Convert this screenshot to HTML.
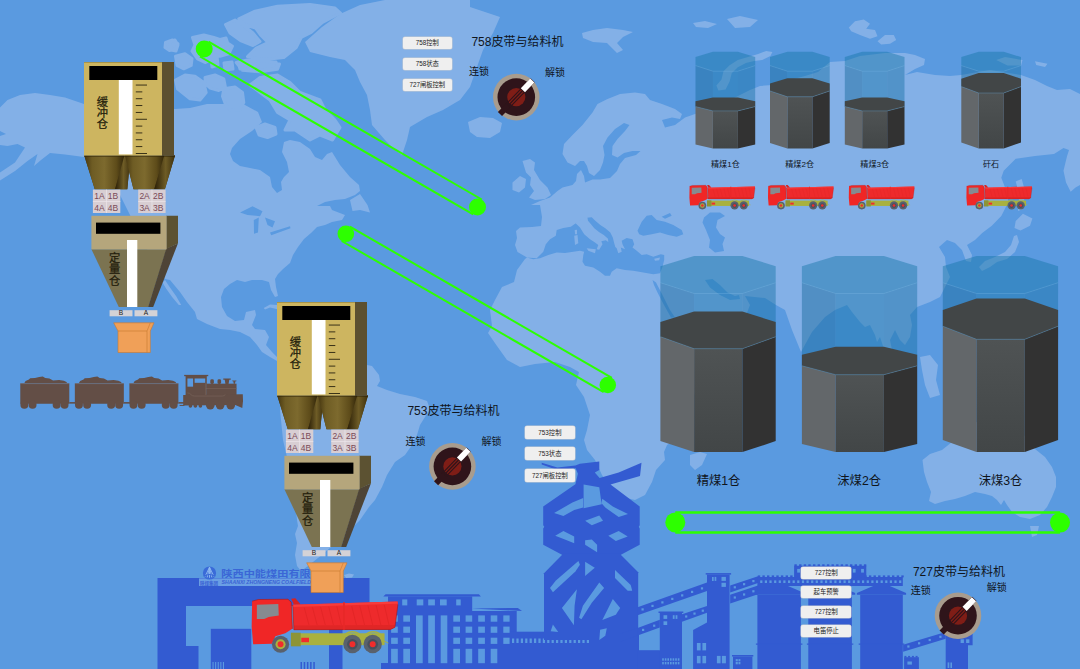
<!DOCTYPE html><html><head><meta charset="utf-8"><title>皮带与给料机监控</title><style>
html,body{margin:0;padding:0}
body{width:1080px;height:669px;overflow:hidden;background:#5a9ae0;position:relative;font-family:"Liberation Sans","Noto Sans CJK SC",sans-serif}
svg{position:absolute;left:0;top:0}
svg text{font-family:"Liberation Sans","Noto Sans CJK SC",sans-serif}
.v{font-size:11.3px;text-anchor:middle;fill:#241e0c;stroke:#241e0c;stroke-width:0.25px}
.lab{font-size:8.5px;text-anchor:middle;fill:#7a4a58}
.ba{font-size:6.6px;text-anchor:middle;fill:#222}
.btn{position:absolute;background:#efefef;border-radius:2px;box-shadow:0 0 0 0.5px #c8ccd2;font-size:6.3px;text-align:center;color:#222;white-space:nowrap;overflow:hidden}
.t{position:absolute;white-space:nowrap;color:#10151c;line-height:1}
</style></head><body>
<svg width="1080" height="669" viewBox="0 0 1080 669">
<defs>
<linearGradient id="cone" x1="0" x2="1" y1="0" y2="0"><stop offset="0" stop-color="#46360f"/><stop offset="0.2" stop-color="#6e5c24"/><stop offset="0.5" stop-color="#7d6a2e"/><stop offset="0.8" stop-color="#5e4c1a"/><stop offset="1" stop-color="#32260a"/></linearGradient>
<linearGradient id="cone2" x1="0" x2="1" y1="0" y2="0"><stop offset="0" stop-color="#2a1e06"/><stop offset="0.55" stop-color="#6e5c26"/><stop offset="1" stop-color="#3e300e"/></linearGradient>
<linearGradient id="coalc" x1="0" x2="0" y1="0" y2="1"><stop offset="0" stop-color="#4f5354"/><stop offset="1" stop-color="#424647"/></linearGradient>
<symbol id="truck" viewBox="0 0 1080 472">
<rect x="310" y="292" width="632" height="80" fill="#a9b13f"/>
<rect x="310" y="288" width="66" height="92" fill="#8d9436"/>
<rect x="380" y="322" width="52" height="30" fill="#f02c2c"/>
<polygon points="48,75 90,64 290,62 312,82 320,262 272,292 205,312 182,362 55,366 45,250" fill="#f02626"/>
<polygon points="80,100 225,95 228,172 160,182 130,196 80,196" fill="#868a90"/>
<polygon points="312,58 340,56 372,92 372,100 330,100" fill="#d82222"/>
<polygon points="322,100 1030,78 1032,98 1012,252 982,266 330,268" fill="#ee2a2c"/>
<polygon points="322,100 1030,78 1031,92 324,114" fill="#f83c3c"/>
<polygon points="330,240 1010,236 1008,252 982,266 330,268" fill="#e02626"/>
<g stroke="#dc2222" stroke-width="4"><line x1="400" y1="118" x2="432" y2="236"/><line x1="455" y1="116" x2="487" y2="236"/><line x1="510" y1="114" x2="542" y2="236"/><line x1="565" y1="112" x2="597" y2="236"/><line x1="620" y1="110" x2="650" y2="236"/><line x1="720" y1="108" x2="752" y2="236"/><line x1="775" y1="106" x2="807" y2="236"/><line x1="830" y1="104" x2="862" y2="236"/><line x1="885" y1="102" x2="917" y2="236"/><line x1="940" y1="100" x2="972" y2="236"/></g>
<path d="M48,75 L90,64 L290,62 L312,82 L320,262 M322,100 L330,268 L982,266 L1012,252 L1032,98" fill="none" stroke="#a81818" stroke-width="4"/>
<rect x="662" y="82" width="12" height="186" fill="#e82828"/>
<circle cx="240" cy="366" r="58" fill="#59616d"/><circle cx="240" cy="366" r="34" fill="#a9b13f"/><circle cx="240" cy="366" r="20" fill="#f02c2c"/>
<circle cx="725" cy="364" r="62" fill="#59616d"/><circle cx="725" cy="366" r="36" fill="#48505c"/><circle cx="725" cy="366" r="20" fill="#f02c2c"/>
<circle cx="862" cy="364" r="62" fill="#59616d"/><circle cx="862" cy="366" r="36" fill="#48505c"/><circle cx="862" cy="366" r="20" fill="#f02c2c"/>
<path d="M655,330 A75,75 0 0 1 795,330 A75,75 0 0 1 935,330" fill="none" stroke="#a9b13f" stroke-width="10"/>
<line x1="930" y1="340" x2="968" y2="358" stroke="#a9b13f" stroke-width="6"/>
</symbol></defs>
<path fill="#83b0e7" d="M238.8,18.8 L255,11.2 L277.5,6.2 L310,4.5 L335,8 L340.5,13 L322.5,22.5 L311.2,32.5 L301.2,37.5 L296.2,47.5 L283.8,57.5 L265,59.5 L247.5,56.5 L256.2,48 L268,42.5 L260.5,35 L255.5,28 L245.5,25Z M225.5,24.5 L235,20 L243,25 L253,33 L260,41.5 L253,45.5 L240.5,40.5 L230,33Z M236.2,62.5 L247.5,60 L265,61.2 L279.5,64 L277.5,69.2 L260,71.8 L242.5,70.2Z M192.5,37.5 L203.8,35 L213.8,37.5 L225,41.2 L232.5,46.2 L228.8,53.8 L220,56.2 L210,53.8 L213.8,58.8 L205,62.5 L197.5,58.8 L192,51.2 L195,45Z M165.5,42.5 L172.5,40 L178,43.8 L176.2,48.8 L169.5,50.5 L165,47.5Z M175.5,56.2 L185,53.8 L192,58.8 L191.2,65.5 L183.8,68.8 L177,65.5Z M175.5,80 L185,75 L195,76.2 L203.8,82.5 L206.2,92.5 L200,100 L190,98.8 L183.8,93.8 L177.5,88.8Z M205,77.5 L215,75 L223.8,78.8 L225.5,87.5 L218.8,90.5 L210,88 L205.5,83.8Z M223.8,88.8 L235,87 L242.5,92.5 L243.8,102.5 L239.5,110 L231.2,110.5 L225.5,104.5 L222.5,96.2Z M260,77.5 L277.5,75 L290,82.5 L300,92.5 L320,100 L325,110 L335,120 L340,127.5 L332.5,140 L320,135 L310,140 L295,130 L285,130 L290,120 L277.5,112.5 L270,100 L260,92.5 L250,85Z M256,127.5 L265,124 L275,127.5 L276,134 L267.5,137.5 L259,135Z M170,42 L175,40 L178,45 L176,51 L171,50Z M218,40 L226,38 L228,44 L222,47 L217,45Z M238,62 L255,60 L276,62 L278,68 L260,70 L240,69Z M211,58 L217,56 L218,65 L212,67Z M224,63 L232,62 L233,69 L225,70Z M0,107.5 L7.5,100 L20,95 L35,93 L50,95 L65,97.5 L84,104 L130,108 L175,109 L190,108 L207,104 L222,104 L235,101 L245,105 L258,112 L262,122 L252,131 L240,139 L232,148 L230,154 L233,161 L240,166 L250,168 L260,170 L270,177 L272,187 L277,193 L282,190 L281,182 L284,177 L289,172 L287,162 L282,152 L284,142 L290,140 L300,142 L310,149 L315,157 L322,160 L327,154 L332,152 L340,165 L350,177 L359,185 L360,191 L355,195 L345,199 L335,200 L325,202 L317,206 L330,206 L332,210 L345,215 L342,220 L332,222 L325,225 L317,227 L311,233 L304,239 L298,247 L293,255 L290,263 L283,269 L278,274 L275,279 L276,287 L278,296 L275,297 L271,290 L269,282 L262,280 L252,280 L245,282 L237,280 L230,284 L224,289 L221,297 L222,307 L227,316 L235,321 L244,320 L246,312 L255,310 L256,315 L252,325 L255,329 L265,330 L269,337 L266,345 L272,352 L277,357 L290,363 L290,368 L277,361 L270,357 L262,352 L257,345 L250,337 L240,332 L230,330 L220,329 L207,324 L197,319 L195,312 L187,302 L180,292 L170,280 L165,279 L150,255 L135,225 L120,195 L100,172 L84,157 L65,154.5 L50,153 L41,160 L34,166 L37.5,154 L27.5,161 L15,171 L0,180.5 L0,172.5 L15,162.5 L20,155 L25,147.5 L17.5,144 L7.5,146 L0,145 L0,136 L6,134 L0,131Z M165,280 L170,287.5 L176.2,296.2 L181.2,305 L178.8,305 L172.5,297.5 L166.2,288.8 L162.5,282.5Z M350,200 L360,194 L367.5,205 L370,212.5 L360,210 L352.5,211Z M263.75,308 L270,304.5 L277.5,305 L285,308 L285,311 L270,307.5 L265,309.5Z M340,14 L360,5 L385,0 L470,0 L470,7 L500,17 L493,33 L483,50 L477,67 L470,87 L460,100 L443,110 L427,117 L410,127 L407,140 L402,155 L395,150 L385,140 L372,125 L370,110 L367,95 L360,82 L355,70 L345,60 L330,57 L310,52 L305,42 L322,27Z M468,122 L480,117 L493,118 L502,123 L500,132 L490,138 L477,137 L470,132Z M582,33 L593,30 L607,28 L623,30 L633,32 L623,37 L617,43 L623,50 L617,53 L607,43 L593,42 L583,38Z M693,23 L705,21 L717,24 L708,28 L696,27Z M727,19 L740,16 L758,20 L750,27 L735,28Z M772.4,51.9 L770.4,56 L762.2,60.1 L754.1,61.1 L745.9,63.1 L737.8,67.2 L731.7,73.3 L729.6,81.5 L725.6,89.6 L718.4,90.6 L716.4,85.6 L721.5,79.4 L723.5,71.3 L729.6,65.2 L737.8,60.1 L748,57 L758.2,54 L766.3,50.9Z M848.8,27.5 L855,21.2 L863.8,19.5 L870,23.8 L866.2,28.8 L875,30 L877.5,36.2 L870,38.8 L860,35 L851.2,31.2Z M877.5,41.2 L885,35 L893.8,35 L896.2,40 L890,43.8 L881.2,44.5Z M996.2,60 L1005,57 L1022.5,60 L1021.2,65.5 L1007.5,65.5Z M1035,61.2 L1047.5,63.8 L1045,67 L1036.2,65Z M522.5,161 L530,159 L535,162.5 L534,170 L540,180 L547.5,187.5 L551,195 L545,199 L535,200 L529,197.5 L534,191 L530,185 L531,177.5 L526,172.5 L524,166Z M512.5,182.5 L520,176 L526,179 L525,187.5 L519,192.5 L512.5,190Z M635,92.5 L645,94 L650,100 L662,104 L675,109 L682,114 L680,119 L672,117.5 L662,120 L665,127.5 L675,125 L685,117.5 L695,114 L710,108 L730,100 L750,90 L760,86 L772,85 L790,80 L805,76 L818,72 L830,62 L845,61 L860,56 L885,53 L905,53 L915,55 L925,59 L924,65 L915,69 L905,75 L917,72 L935,75 L950,76 L961,75 L990,70 L1021,75 L1035,80 L1047,86 L1057,90 L1070,89 L1080,94 L1080,185 L1075.5,187.4 L1070.7,191.7 L1066,182.6 L1063.5,170.7 L1067,156.3 L1069,150 L1063.5,148 L1054,154 L1035,156 L1015.7,158.7 L1003.7,170.7 L1001.3,177.8 L1006,190 L1008.5,201.8 L1001.3,216 L991.8,225.7 L982.2,232.9 L975,240 L967,245 L972,255 L971,262 L966,261 L962,250 L955,243 L947,240 L939,247 L945,257 L946,267 L950,277 L945,287 L940,297 L930,302 L917,307 L910,315 L912,325 L910,337 L905,345 L900,340 L895,330 L890,340 L892,350 L897,375 L893,376 L886,355 L880,337 L877,342 L875,335 L870,325 L865,327 L860,322 L852,312 L847,305 L835,310 L825,317 L812,332 L801,352 L792,330 L785,310 L776,305 L765,298 L745,296 L750,305 L745,318 L720,335 L690,345 L722,350 L712,368 L700,385 L690,402 L680,420 L675,440 L667,445 L664,452 L665,460 L656,470 L652,482 L645,495 L635,500 L622,497 L612,490 L602,475 L595,460 L587,450 L584,440 L587,430 L590,415 L584,397 L576,385 L579,372 L570,367 L555,362 L535,364 L520,367 L507,360 L497,346 L488,333 L492,326 L490,310 L495,300 L502,287 L514,282 L517,270 L525,259 L527,257.5 L517.5,252 L515,245 L517,238 L516,231 L520,227.5 L532,227 L541,226 L542,217 L540,205 L531,205 L540,201 L550,197.5 L557.5,191 L562.5,187.5 L572.5,185 L576,181 L577,174 L581,170 L584,176 L585,182.5 L592.5,179.5 L600,179.5 L610,178 L617,171 L620,164 L625,158 L636,155 L640.5,151 L632.5,151 L624,153 L617.5,157.5 L612,155 L612.5,146 L617.5,139 L625,131 L629.5,125 L624,123 L615,129 L607.5,137.5 L603,146 L604.5,155 L603,162.5 L600,170 L594,176 L589,173 L587,166 L584,161 L580,161 L575,166 L567.5,162.5 L562.5,154 L564,144 L572.5,135 L582.5,125 L592.5,112.5 L597.5,104 L607.5,99 L620,94Z M690,455 L700,452 L707,454 L702,465 L695,470 L690,465Z M979,267 L985,261 L995,257 L1005,252 L1011,245 L1014,236 L1017,235 L1019,242 L1015,252 L1007,259 L997,262 L990,267 L982,271Z M1015.7,221 L1022.9,213.7 L1032.4,218.5 L1030,225.7 L1020.5,230.5 L1014.5,228Z M1015.7,181.4 L1021.7,179 L1025.3,192 L1022.9,209 L1018,211 L1019.3,194.6Z M920,357 L930,355 L938,365 L936,380 L940,395 L930,398 L925,385 L922,370Z M285,362 L300,360 L330,358 L367,365 L372,366 L379,375 L380,381 L377,386 L387,390 L400,394 L415,397 L427,401 L430,409 L425,417 L420,425 L417,435 L412,445 L405,455 L395,462 L387,475 L382,487 L375,500 L369,507 L360,520 L345,535 L330,548 L318,558 L308,566 L301,571 L297,566 L295,555 L297,543 L295,534 L298,526 L297,520 L295,500 L290,470 L283,440 L280,410 L283,385Z M344,575 L349,573.5 L354,574.5 L352,577.5 L346,578Z M922.5,460 L930,454 L942,450 L952,442 L965,425 L985,420 L1000,430 L1010,410 L1020,430 L1035,449 L1045,457 L1052,467 L1056,477 L1056,487 L1052,497 L1047,507 L1040,515 L1030,519 L1020,517 L1012,512 L1007,505 L1004,500 L1001,505 L997,500 L992,496 L985,494 L975,492 L965,496 L955,499 L945,501 L935,504 L929,501 L931,492 L927,482 L924,472Z M1030,526 L1039,526 L1037,535 L1032,537Z"/>
<path fill="#83b0e7" stroke="#83b0e7" stroke-width="3" stroke-linejoin="round" d="M238.8,18.8 L255,11.2 L277.5,6.2 L310,4.5 L335,8 L340.5,13 L322.5,22.5 L311.2,32.5 L301.2,37.5 L296.2,47.5 L283.8,57.5 L265,59.5 L247.5,56.5 L256.2,48 L268,42.5 L260.5,35 L255.5,28 L245.5,25Z M225.5,24.5 L235,20 L243,25 L253,33 L260,41.5 L253,45.5 L240.5,40.5 L230,33Z M236.2,62.5 L247.5,60 L265,61.2 L279.5,64 L277.5,69.2 L260,71.8 L242.5,70.2Z M192.5,37.5 L203.8,35 L213.8,37.5 L225,41.2 L232.5,46.2 L228.8,53.8 L220,56.2 L210,53.8 L213.8,58.8 L205,62.5 L197.5,58.8 L192,51.2 L195,45Z M165.5,42.5 L172.5,40 L178,43.8 L176.2,48.8 L169.5,50.5 L165,47.5Z M175.5,56.2 L185,53.8 L192,58.8 L191.2,65.5 L183.8,68.8 L177,65.5Z M175.5,80 L185,75 L195,76.2 L203.8,82.5 L206.2,92.5 L200,100 L190,98.8 L183.8,93.8 L177.5,88.8Z M205,77.5 L215,75 L223.8,78.8 L225.5,87.5 L218.8,90.5 L210,88 L205.5,83.8Z M223.8,88.8 L235,87 L242.5,92.5 L243.8,102.5 L239.5,110 L231.2,110.5 L225.5,104.5 L222.5,96.2Z M260,77.5 L277.5,75 L290,82.5 L300,92.5 L320,100 L325,110 L335,120 L340,127.5 L332.5,140 L320,135 L310,140 L295,130 L285,130 L290,120 L277.5,112.5 L270,100 L260,92.5 L250,85Z M256,127.5 L265,124 L275,127.5 L276,134 L267.5,137.5 L259,135Z M170,42 L175,40 L178,45 L176,51 L171,50Z M218,40 L226,38 L228,44 L222,47 L217,45Z M238,62 L255,60 L276,62 L278,68 L260,70 L240,69Z M211,58 L217,56 L218,65 L212,67Z M224,63 L232,62 L233,69 L225,70Z"/>
<path fill="#5a9ae0" d="M240,212.5 L252.5,206.2 L262.5,211.2 L260,216.2 L247.5,215Z M253.8,220 L258.8,217.5 L258,232.5 L254,233.8Z M265,217.5 L275,221.2 L272.5,227.5 L267.5,225Z M270,232.5 L290,226.2 L290.5,228.2 L271.2,235.2Z M526.7,257.5 L536.7,258.3 L543.3,251.7 L545.8,244.2 L550,239.2 L555.8,235.8 L556.7,230 L563.3,228 L570.8,226.7 L575.8,223.3 L581.7,220.8 L586.7,217.7 L591.7,217.2 L595.3,220.8 L600.3,225 L605.3,228.3 L610.3,232.5 L612.8,237.5 L614,242.5 L615.3,247 L616.7,248.3 L618.3,253.3 L621.7,251.7 L620.8,247.5 L625,249.2 L622.5,244.2 L621.7,240.8 L626.7,238 L632.5,239.2 L634.2,244.2 L632.5,247.5 L636.7,250.8 L641.7,255 L646.7,254.2 L653.3,256.7 L660.8,254.2 L664.2,255 L664.2,260 L662.5,266.7 L660,273.3 L653.3,274.2 L643.3,272.5 L633.3,270.8 L625,270 L616.7,268.3 L611.7,271.7 L610,275.8 L605,275.8 L600,271.7 L593.3,267.5 L585,265.8 L582.5,261.7 L583.3,255 L584.2,251.7 L580,250.8 L573.3,251.7 L565,253 L556.7,252.5 L548.3,255 L540,258.3 L533.3,259.2Z M637.5,230.8 L641.7,221.7 L646.7,215.8 L651.7,215 L656.7,220 L665,221.7 L673.3,225 L681.7,230 L683.3,234.2 L676.7,236.7 L668.3,235 L660,232.5 L651.7,234.2 L643.3,235.8 L639.2,234.2Z M661.7,216.7 L670,213 L671.7,215.8 L665,218.7Z M704,217.5 L710,212.5 L720,212.5 L725,216 L717.5,220 L716,227.5 L720,234 L725,237.5 L722.5,244 L724,251 L715,252.5 L709,247.5 L710,240 L706,230 L702.5,222.5Z M652.5,280 L656,282.5 L662.5,295 L670,310 L675,317.5 L671,317.5 L664,305 L657.5,292.5 L654,285Z M705,280 L712.5,279 L720,285 L727.5,292.5 L735,296 L739,295 L740,299 L730,300 L720,295 L710,287.5Z"/>
<path fill="#83b0e7" d="M575.3,223 L581.7,219.2 L587.2,216.3 L588,220.7 L591,224.3 L594.3,228.3 L599.3,232.3 L603.8,235 L608,238.7 L608.3,242 L605.8,240.3 L601.3,241.3 L602.5,244.2 L599.2,249.7 L596.7,249.2 L598.3,245 L595,242.5 L590,239.2 L584.2,234.2 L580,227.5Z M586.7,248.3 L595.8,249.2 L595,253.3 L588.3,250.8Z M574.2,235.8 L577.5,235 L578.3,243.3 L575,245Z M574.7,230 L577,229.7 L577,234.2 L575,234.2Z M654.2,258.7 L660,257.5 L659.2,260.3 L655,260.8Z"/>
<rect x="381.0" y="663.0" width="259.0" height="6.0" fill="#335bd1"/>
<rect x="157.5" y="578.0" width="212.0" height="28.0" fill="#335bd1"/>
<rect x="157.5" y="606.0" width="28.5" height="63.0" fill="#335bd1"/>
<rect x="186.0" y="646.0" width="12.5" height="23.0" fill="#335bd1"/>
<rect x="210.8" y="628.8" width="40.5" height="40.2" fill="#335bd1"/>
<rect x="329.0" y="628.8" width="13.5" height="40.2" fill="#335bd1"/>
<rect x="212.5" y="662.0" width="1.1" height="7.0" fill="#5a9ae0"/>
<rect x="300.5" y="662.0" width="1.5" height="7.0" fill="#335bd1"/>
<rect x="215.1" y="662.0" width="1.1" height="7.0" fill="#5a9ae0"/>
<rect x="303.7" y="662.0" width="1.5" height="7.0" fill="#335bd1"/>
<rect x="217.7" y="662.0" width="1.1" height="7.0" fill="#5a9ae0"/>
<rect x="306.9" y="662.0" width="1.5" height="7.0" fill="#335bd1"/>
<rect x="220.3" y="662.0" width="1.1" height="7.0" fill="#5a9ae0"/>
<rect x="310.1" y="662.0" width="1.5" height="7.0" fill="#335bd1"/>
<rect x="222.9" y="662.0" width="1.1" height="7.0" fill="#5a9ae0"/>
<rect x="313.3" y="662.0" width="1.5" height="7.0" fill="#335bd1"/>
<polygon points="383.3,596.4 385.6,594.3 478.9,594.3 480.9,596.6" fill="#335bd1"/>
<rect x="388.0" y="596.4" width="84.2" height="73.0" fill="#335bd1"/>
<polygon points="472,608.4 517.8,608 522,611" fill="#335bd1"/>
<rect x="472.0" y="611.0" width="44.7" height="58.0" fill="#335bd1"/>
<rect x="503.0" y="631.7" width="136.0" height="37.3" fill="#335bd1"/>
<rect x="638.0" y="650.5" width="22.0" height="18.5" fill="#335bd1"/>
<rect x="402.2" y="599.4" width="5.1" height="6.0" fill="#5a9ae0"/>
<rect x="416.7" y="599.4" width="6.6" height="6.0" fill="#5a9ae0"/>
<rect x="428.2" y="599.4" width="6.7" height="6.0" fill="#5a9ae0"/>
<rect x="440.0" y="599.4" width="6.7" height="6.0" fill="#5a9ae0"/>
<rect x="456.2" y="599.4" width="4.5" height="6.0" fill="#5a9ae0"/>
<rect x="391.1" y="615.4" width="6.7" height="6.3" fill="#5a9ae0"/>
<rect x="391.1" y="626.6" width="6.7" height="6.2" fill="#5a9ae0"/>
<rect x="391.1" y="637.7" width="6.7" height="6.2" fill="#5a9ae0"/>
<rect x="391.1" y="648.8" width="6.7" height="14.4" fill="#5a9ae0"/>
<rect x="403.3" y="615.4" width="6.7" height="6.3" fill="#5a9ae0"/>
<rect x="403.3" y="626.6" width="6.7" height="6.2" fill="#5a9ae0"/>
<rect x="403.3" y="637.7" width="6.7" height="6.2" fill="#5a9ae0"/>
<rect x="403.3" y="648.8" width="6.7" height="14.4" fill="#5a9ae0"/>
<rect x="453.3" y="615.4" width="6.7" height="6.3" fill="#5a9ae0"/>
<rect x="453.3" y="626.6" width="6.7" height="6.2" fill="#5a9ae0"/>
<rect x="453.3" y="637.7" width="6.7" height="6.2" fill="#5a9ae0"/>
<rect x="453.3" y="648.8" width="6.7" height="14.4" fill="#5a9ae0"/>
<rect x="465.6" y="615.4" width="6.6" height="6.3" fill="#5a9ae0"/>
<rect x="465.6" y="626.6" width="6.6" height="6.2" fill="#5a9ae0"/>
<rect x="465.6" y="637.7" width="6.6" height="6.2" fill="#5a9ae0"/>
<rect x="465.6" y="648.8" width="6.6" height="14.4" fill="#5a9ae0"/>
<rect x="478.2" y="615.4" width="6.7" height="6.3" fill="#5a9ae0"/>
<rect x="478.2" y="626.6" width="6.7" height="6.2" fill="#5a9ae0"/>
<rect x="478.2" y="637.7" width="6.7" height="6.2" fill="#5a9ae0"/>
<rect x="478.2" y="648.8" width="6.7" height="14.4" fill="#5a9ae0"/>
<rect x="490.7" y="615.4" width="6.6" height="6.3" fill="#5a9ae0"/>
<rect x="490.7" y="626.6" width="6.6" height="6.2" fill="#5a9ae0"/>
<rect x="490.7" y="637.7" width="6.6" height="6.2" fill="#5a9ae0"/>
<rect x="490.7" y="648.8" width="6.6" height="14.4" fill="#5a9ae0"/>
<rect x="503.3" y="615.4" width="6.3" height="6.3" fill="#5a9ae0"/>
<rect x="503.3" y="626.6" width="6.3" height="6.2" fill="#5a9ae0"/>
<rect x="503.3" y="637.7" width="6.3" height="6.2" fill="#5a9ae0"/>
<rect x="416.0" y="615.4" width="6.7" height="47.8" fill="#5a9ae0"/>
<rect x="428.2" y="615.4" width="6.7" height="47.8" fill="#5a9ae0"/>
<rect x="440.7" y="615.4" width="6.6" height="47.8" fill="#5a9ae0"/>
<rect x="512.0" y="638.5" width="2.2" height="4.5" fill="#5a9ae0"/>
<rect x="516.4" y="638.5" width="2.2" height="4.5" fill="#5a9ae0"/>
<rect x="520.8" y="638.5" width="2.2" height="4.5" fill="#5a9ae0"/>
<rect x="525.2" y="638.5" width="2.2" height="4.5" fill="#5a9ae0"/>
<rect x="529.6" y="638.5" width="2.2" height="4.5" fill="#5a9ae0"/>
<rect x="534.0" y="638.5" width="2.2" height="4.5" fill="#5a9ae0"/>
<rect x="538.4" y="638.5" width="2.2" height="4.5" fill="#5a9ae0"/>
<rect x="542.8" y="638.5" width="2.2" height="4.5" fill="#5a9ae0"/>
<rect x="547.2" y="638.5" width="2.2" height="4.5" fill="#5a9ae0"/>
<rect x="551.6" y="638.5" width="2.2" height="4.5" fill="#5a9ae0"/>
<rect x="556.0" y="638.5" width="2.2" height="4.5" fill="#5a9ae0"/>
<rect x="560.4" y="638.5" width="2.2" height="4.5" fill="#5a9ae0"/>
<rect x="564.8" y="638.5" width="2.2" height="4.5" fill="#5a9ae0"/>
<rect x="569.2" y="638.5" width="2.2" height="4.5" fill="#5a9ae0"/>
<rect x="573.6" y="638.5" width="2.2" height="4.5" fill="#5a9ae0"/>
<rect x="578.0" y="638.5" width="2.2" height="4.5" fill="#5a9ae0"/>
<rect x="582.4" y="638.5" width="2.2" height="4.5" fill="#5a9ae0"/>
<rect x="586.8" y="638.5" width="2.2" height="4.5" fill="#5a9ae0"/>
<polygon points="541.7,462.8 557.4,467.6 575.4,465.5 579.9,463.7 599.3,461.4 599.3,470 594.8,472.6 599.6,477.9 618.7,472.6 641.5,462.8 640,475.9 616.5,482.7 610.5,484.5 639.7,506.6 639.7,525.3 638.8,526.8 639.7,528.6 639.7,544.7 619.5,555.5 563.4,555.5 543.2,544.7 543.2,528.6 544.3,526.8 543.2,525.3 543.2,506.6 575.4,484.2 577.9,473.7 575.7,468.2 557.4,470 541.7,464.6" fill="#335bd1"/>
<polygon points="554.1,513 572.4,502.6 583.2,498.1 583.2,507.6 574.2,510 563.4,516" fill="#5a9ae0"/>
<polygon points="583.6,484.6 599.3,487.2 600.8,498.4 601.8,504.3 583.6,508.2" fill="#5a9ae0"/>
<polygon points="602.3,498.7 612.8,506.6 628,514.1 618.7,517.1 605.3,507.6 601.5,503.2" fill="#5a9ae0"/>
<polygon points="585.1,520.8 599.3,515.6 603,520.8 591.8,525.3" fill="#5a9ae0"/>
<polygon points="555.2,535.8 563.4,531 574.2,536.5 574.2,543.2 564.9,539.5" fill="#5a9ae0"/>
<polygon points="608.3,535.8 618.7,531 627.7,536.5 615.8,541" fill="#5a9ae0"/>
<polygon points="585.1,540.2 591.8,539.5 597.1,544.7 597.1,552.2 585.1,544.7" fill="#5a9ae0"/>
<polygon points="563.4,553.5 619.5,553.5 638.2,572.2 638.2,640 544,640 544,573.2" fill="#335bd1"/>
<polygon points="550,587.9 555.9,580.4 578.4,560.9 579.9,564.7 575.4,571.4 552.9,592.3" fill="#5a9ae0"/>
<polygon points="585.1,561.7 594.8,567.7 585.1,575.9" fill="#5a9ae0"/>
<polygon points="615,569.9 630.7,584.9 632.2,590.8 627.7,590.8 615,578.1" fill="#5a9ae0"/>
<polygon points="561.9,608 576.9,589.3 574.6,605.8 573.9,625.2" fill="#5a9ae0"/>
<polygon points="579.1,617.8 582.9,605.8 599.3,582.6 604.1,587.9 591.8,602.8 581.4,619.3" fill="#5a9ae0"/>
<polygon points="602.3,620 612.8,599.1 620.2,608 615.8,614.8" fill="#5a9ae0"/>
<polygon points="550.7,631.2 552.9,624.5 558.2,632" fill="#5a9ae0"/>
<polygon points="599.3,640 600.1,629.7 606.8,628.2 605.3,635.7" fill="#5a9ae0"/>
<polygon points="637.6,607.2 707,582.4 707,591.1 637.6,615.2" fill="#335bd1"/>
<polygon points="637.6,628.1 659.8,619.8 659.8,627.6 637.6,635.6" fill="#335bd1"/>
<polygon points="682,614.3 707,605.9 707,612.8 682,621.7" fill="#335bd1"/>
<polygon points="730.2,585.6 758,576.3 758,583.1 730.2,592.4" fill="#335bd1"/>
<polygon points="730.2,594.8 758,585.6 758,594.3 730.2,603.5" fill="#335bd1"/>
<polygon points="620,633.7 637.6,628.1 637.6,635.6 620,642" fill="#335bd1"/>
<polygon points="658.5,611.5 683.3,611.5 683.3,613 658.5,613" fill="#335bd1"/>
<polygon points="659.8,613 682,613 682,669.1 659.8,669.1" fill="#335bd1"/>
<polygon points="637.6,650.4 659.8,650.4 659.8,669.1 637.6,669.1" fill="#335bd1"/>
<polygon points="705.7,573.1 731.1,573.1 731.1,574.6 705.7,574.6" fill="#335bd1"/>
<polygon points="707,574.6 729.6,574.6 729.6,669.1 707,669.1" fill="#335bd1"/>
<polygon points="693.1,630 707,622.6 707,669.1 693.1,669.1" fill="#335bd1"/>
<polygon points="732,655 753.3,655 753.3,656.5 732,656.5" fill="#335bd1"/>
<polygon points="733,656.5 752.4,656.5 752.4,669.1 733,669.1" fill="#335bd1"/>
<polygon points="663.5,615.2 667.2,615.2 667.2,618.9 663.5,618.9" fill="#5a9ae0"/>
<polygon points="672.8,615.2 674.6,615.2 674.6,618.9 672.8,618.9" fill="#5a9ae0"/>
<polygon points="675.6,615.2 677.4,615.2 677.4,618.9 675.6,618.9" fill="#5a9ae0"/>
<polygon points="663.5,621.3 667.2,621.3 667.2,625 663.5,625" fill="#5a9ae0"/>
<polygon points="712,576.9 713.7,576.9 713.7,580.9 712,580.9" fill="#5a9ae0"/>
<polygon points="714.6,576.9 716.3,576.9 716.3,580.9 714.6,580.9" fill="#5a9ae0"/>
<polygon points="721.5,576.9 725.9,576.9 725.9,580.9 721.5,580.9" fill="#5a9ae0"/>
<polygon points="721.5,582.8 725.9,582.8 725.9,586.9 721.5,586.9" fill="#5a9ae0"/>
<polygon points="696.9,643 700.6,643 700.6,650.4 696.9,650.4" fill="#5a9ae0"/>
<polygon points="702.4,643 706.1,643 706.1,650.4 702.4,650.4" fill="#5a9ae0"/>
<polygon points="696.9,655.9 700.6,655.9 700.6,663.3 696.9,663.3" fill="#5a9ae0"/>
<polygon points="702.4,655.9 706.1,655.9 706.1,663.3 702.4,663.3" fill="#5a9ae0"/>
<polygon points="716.9,655.9 720.6,655.9 720.6,663.3 716.9,663.3" fill="#5a9ae0"/>
<polygon points="721.9,655.9 725.9,655.9 725.9,663.3 721.9,663.3" fill="#5a9ae0"/>
<polygon points="735.7,659.1 737.8,659.1 737.8,661.3 735.7,661.3" fill="#5a9ae0"/>
<polygon points="738.5,659.1 740.4,659.1 740.4,661.3 738.5,661.3" fill="#5a9ae0"/>
<polygon points="735.7,662 737.8,662 737.8,664.3 735.7,664.3" fill="#5a9ae0"/>
<polygon points="738.5,662 740.4,662 740.4,664.3 738.5,664.3" fill="#5a9ae0"/>
<rect x="662.2" y="658.3" width="1.6" height="2.4" fill="#5a9ae0"/>
<rect x="662.2" y="662.0" width="1.6" height="2.4" fill="#5a9ae0"/>
<rect x="664.8" y="658.3" width="1.6" height="2.4" fill="#5a9ae0"/>
<rect x="664.8" y="662.0" width="1.6" height="2.4" fill="#5a9ae0"/>
<rect x="667.4" y="658.3" width="1.6" height="2.4" fill="#5a9ae0"/>
<rect x="667.4" y="662.0" width="1.6" height="2.4" fill="#5a9ae0"/>
<rect x="670.0" y="658.3" width="1.6" height="2.4" fill="#5a9ae0"/>
<rect x="670.0" y="662.0" width="1.6" height="2.4" fill="#5a9ae0"/>
<rect x="672.6" y="658.3" width="1.6" height="2.4" fill="#5a9ae0"/>
<rect x="672.6" y="662.0" width="1.6" height="2.4" fill="#5a9ae0"/>
<rect x="675.2" y="658.3" width="1.6" height="2.4" fill="#5a9ae0"/>
<rect x="675.2" y="662.0" width="1.6" height="2.4" fill="#5a9ae0"/>
<rect x="677.8" y="658.3" width="1.6" height="2.4" fill="#5a9ae0"/>
<rect x="677.8" y="662.0" width="1.6" height="2.4" fill="#5a9ae0"/>
<rect x="641.5" y="608.3" width="2.2" height="2.2" fill="#5a9ae0"/>
<rect x="651.4" y="604.8" width="2.2" height="2.2" fill="#5a9ae0"/>
<rect x="661.3" y="601.3" width="2.2" height="2.2" fill="#5a9ae0"/>
<rect x="671.2" y="597.8" width="2.2" height="2.2" fill="#5a9ae0"/>
<rect x="681.1" y="594.3" width="2.2" height="2.2" fill="#5a9ae0"/>
<rect x="691.0" y="590.8" width="2.2" height="2.2" fill="#5a9ae0"/>
<rect x="700.9" y="587.3" width="2.2" height="2.2" fill="#5a9ae0"/>
<rect x="642.0" y="628.8" width="2.2" height="2.2" fill="#5a9ae0"/>
<rect x="653.1" y="624.6" width="2.2" height="2.2" fill="#5a9ae0"/>
<rect x="685.1" y="615.4" width="2.2" height="2.2" fill="#5a9ae0"/>
<rect x="693.4" y="612.5" width="2.2" height="2.2" fill="#5a9ae0"/>
<rect x="701.7" y="609.6" width="2.2" height="2.2" fill="#5a9ae0"/>
<rect x="733.7" y="586.2" width="2.2" height="2.2" fill="#5a9ae0"/>
<rect x="743.0" y="583.1" width="2.2" height="2.2" fill="#5a9ae0"/>
<rect x="752.3" y="580.0" width="2.2" height="2.2" fill="#5a9ae0"/>
<rect x="733.7" y="596.4" width="2.2" height="2.2" fill="#5a9ae0"/>
<rect x="743.0" y="593.4" width="2.2" height="2.2" fill="#5a9ae0"/>
<rect x="752.3" y="590.2" width="2.2" height="2.2" fill="#5a9ae0"/>
<polygon points="794.1,565.7 866.3,565.7 866.3,576.9 794.1,576.9" fill="#335bd1"/>
<polygon points="757.4,576.9 902.8,576.9 902.8,586.1 757.4,586.1" fill="#335bd1"/>
<rect x="794.4" y="564.3" width="2.4" height="2.0" fill="#335bd1"/>
<rect x="799.1" y="564.3" width="2.4" height="2.0" fill="#335bd1"/>
<rect x="803.7" y="564.3" width="2.4" height="2.0" fill="#335bd1"/>
<rect x="808.3" y="564.3" width="2.4" height="2.0" fill="#335bd1"/>
<rect x="813.0" y="564.3" width="2.4" height="2.0" fill="#335bd1"/>
<rect x="817.6" y="564.3" width="2.4" height="2.0" fill="#335bd1"/>
<rect x="822.2" y="564.3" width="2.4" height="2.0" fill="#335bd1"/>
<rect x="826.9" y="564.3" width="2.4" height="2.0" fill="#335bd1"/>
<rect x="831.5" y="564.3" width="2.4" height="2.0" fill="#335bd1"/>
<rect x="836.1" y="564.3" width="2.4" height="2.0" fill="#335bd1"/>
<rect x="840.7" y="564.3" width="2.4" height="2.0" fill="#335bd1"/>
<rect x="845.4" y="564.3" width="2.4" height="2.0" fill="#335bd1"/>
<rect x="850.0" y="564.3" width="2.4" height="2.0" fill="#335bd1"/>
<rect x="854.6" y="564.3" width="2.4" height="2.0" fill="#335bd1"/>
<rect x="859.3" y="564.3" width="2.4" height="2.0" fill="#335bd1"/>
<rect x="863.9" y="564.3" width="2.4" height="2.0" fill="#335bd1"/>
<rect x="757.8" y="575.4" width="2.4" height="2.0" fill="#335bd1"/>
<rect x="762.4" y="575.4" width="2.4" height="2.0" fill="#335bd1"/>
<rect x="767.0" y="575.4" width="2.4" height="2.0" fill="#335bd1"/>
<rect x="771.7" y="575.4" width="2.4" height="2.0" fill="#335bd1"/>
<rect x="776.3" y="575.4" width="2.4" height="2.0" fill="#335bd1"/>
<rect x="780.9" y="575.4" width="2.4" height="2.0" fill="#335bd1"/>
<rect x="785.6" y="575.4" width="2.4" height="2.0" fill="#335bd1"/>
<rect x="790.2" y="575.4" width="2.4" height="2.0" fill="#335bd1"/>
<rect x="794.8" y="575.4" width="2.4" height="2.0" fill="#335bd1"/>
<rect x="799.4" y="575.4" width="2.4" height="2.0" fill="#335bd1"/>
<rect x="804.1" y="575.4" width="2.4" height="2.0" fill="#335bd1"/>
<rect x="808.7" y="575.4" width="2.4" height="2.0" fill="#335bd1"/>
<rect x="813.3" y="575.4" width="2.4" height="2.0" fill="#335bd1"/>
<rect x="818.0" y="575.4" width="2.4" height="2.0" fill="#335bd1"/>
<rect x="822.6" y="575.4" width="2.4" height="2.0" fill="#335bd1"/>
<rect x="827.2" y="575.4" width="2.4" height="2.0" fill="#335bd1"/>
<rect x="831.9" y="575.4" width="2.4" height="2.0" fill="#335bd1"/>
<rect x="836.5" y="575.4" width="2.4" height="2.0" fill="#335bd1"/>
<rect x="841.1" y="575.4" width="2.4" height="2.0" fill="#335bd1"/>
<rect x="845.7" y="575.4" width="2.4" height="2.0" fill="#335bd1"/>
<rect x="850.4" y="575.4" width="2.4" height="2.0" fill="#335bd1"/>
<rect x="855.0" y="575.4" width="2.4" height="2.0" fill="#335bd1"/>
<rect x="859.6" y="575.4" width="2.4" height="2.0" fill="#335bd1"/>
<rect x="864.3" y="575.4" width="2.4" height="2.0" fill="#335bd1"/>
<rect x="868.9" y="575.4" width="2.4" height="2.0" fill="#335bd1"/>
<rect x="873.5" y="575.4" width="2.4" height="2.0" fill="#335bd1"/>
<rect x="878.1" y="575.4" width="2.4" height="2.0" fill="#335bd1"/>
<rect x="882.8" y="575.4" width="2.4" height="2.0" fill="#335bd1"/>
<rect x="887.4" y="575.4" width="2.4" height="2.0" fill="#335bd1"/>
<rect x="892.0" y="575.4" width="2.4" height="2.0" fill="#335bd1"/>
<rect x="896.7" y="575.4" width="2.4" height="2.0" fill="#335bd1"/>
<rect x="901.3" y="575.4" width="2.4" height="2.0" fill="#335bd1"/>
<rect x="760.2" y="580.4" width="2.2" height="2.6" fill="#5a9ae0"/>
<rect x="764.8" y="580.4" width="2.2" height="2.6" fill="#5a9ae0"/>
<rect x="769.4" y="580.4" width="2.2" height="2.6" fill="#5a9ae0"/>
<rect x="774.1" y="580.4" width="2.2" height="2.6" fill="#5a9ae0"/>
<rect x="778.7" y="580.4" width="2.2" height="2.6" fill="#5a9ae0"/>
<rect x="783.3" y="580.4" width="2.2" height="2.6" fill="#5a9ae0"/>
<rect x="788.0" y="580.4" width="2.2" height="2.6" fill="#5a9ae0"/>
<rect x="792.6" y="580.4" width="2.2" height="2.6" fill="#5a9ae0"/>
<rect x="797.2" y="580.4" width="2.2" height="2.6" fill="#5a9ae0"/>
<rect x="801.9" y="580.4" width="2.2" height="2.6" fill="#5a9ae0"/>
<rect x="806.5" y="580.4" width="2.2" height="2.6" fill="#5a9ae0"/>
<rect x="811.1" y="580.4" width="2.2" height="2.6" fill="#5a9ae0"/>
<rect x="815.7" y="580.4" width="2.2" height="2.6" fill="#5a9ae0"/>
<rect x="820.4" y="580.4" width="2.2" height="2.6" fill="#5a9ae0"/>
<rect x="825.0" y="580.4" width="2.2" height="2.6" fill="#5a9ae0"/>
<rect x="829.6" y="580.4" width="2.2" height="2.6" fill="#5a9ae0"/>
<rect x="834.3" y="580.4" width="2.2" height="2.6" fill="#5a9ae0"/>
<rect x="838.9" y="580.4" width="2.2" height="2.6" fill="#5a9ae0"/>
<rect x="843.5" y="580.4" width="2.2" height="2.6" fill="#5a9ae0"/>
<rect x="848.1" y="580.4" width="2.2" height="2.6" fill="#5a9ae0"/>
<rect x="852.8" y="580.4" width="2.2" height="2.6" fill="#5a9ae0"/>
<rect x="857.4" y="580.4" width="2.2" height="2.6" fill="#5a9ae0"/>
<rect x="862.0" y="580.4" width="2.2" height="2.6" fill="#5a9ae0"/>
<rect x="866.7" y="580.4" width="2.2" height="2.6" fill="#5a9ae0"/>
<rect x="871.3" y="580.4" width="2.2" height="2.6" fill="#5a9ae0"/>
<rect x="875.9" y="580.4" width="2.2" height="2.6" fill="#5a9ae0"/>
<rect x="880.6" y="580.4" width="2.2" height="2.6" fill="#5a9ae0"/>
<rect x="885.2" y="580.4" width="2.2" height="2.6" fill="#5a9ae0"/>
<rect x="889.8" y="580.4" width="2.2" height="2.6" fill="#5a9ae0"/>
<rect x="894.4" y="580.4" width="2.2" height="2.6" fill="#5a9ae0"/>
<rect x="899.1" y="580.4" width="2.2" height="2.6" fill="#5a9ae0"/>
<rect x="797.2" y="568.9" width="2.8" height="3.7" fill="#5a9ae0"/>
<rect x="852.8" y="568.9" width="2.8" height="3.7" fill="#5a9ae0"/>
<rect x="861.1" y="568.9" width="2.8" height="3.7" fill="#5a9ae0"/>
<polygon points="757.4,586.1 772.2,586.1 757.4,594.8" fill="#335bd1"/>
<polygon points="770.4,586.1 788,586.1 804.3,593.1 804.3,594.8 754.1,594.8 754.1,593.1" fill="#335bd1"/>
<polygon points="757.4,594.8 800.9,594.8 800.9,669.1 757.4,669.1" fill="#335bd1"/>
<polygon points="755.9,643.5 802.4,643.5 802.4,644.8 755.9,644.8" fill="#335bd1"/>
<polygon points="821.3,586.1 838.9,586.1 855.2,593.1 855.2,594.8 805,594.8 805,593.1" fill="#335bd1"/>
<polygon points="808.3,594.8 851.9,594.8 851.9,669.1 808.3,669.1" fill="#335bd1"/>
<polygon points="806.9,643.5 853.3,643.5 853.3,644.8 806.9,644.8" fill="#335bd1"/>
<polygon points="873.1,586.1 889.8,586.1 906.1,593.1 906.1,594.8 856.9,594.8 856.9,593.1" fill="#335bd1"/>
<polygon points="860.2,594.8 902.8,594.8 902.8,669.1 860.2,669.1" fill="#335bd1"/>
<polygon points="858.7,643.5 904.3,643.5 904.3,644.8 858.7,644.8" fill="#335bd1"/>
<polygon points="903.1,644.8 945.7,631.9 945.7,638.7 903.1,651.7" fill="#335bd1"/>
<rect x="907.3" y="645.4" width="2.2" height="2.2" fill="#5a9ae0"/>
<rect x="918.0" y="642.2" width="2.2" height="2.2" fill="#5a9ae0"/>
<rect x="928.6" y="638.9" width="2.2" height="2.2" fill="#5a9ae0"/>
<rect x="939.3" y="635.7" width="2.2" height="2.2" fill="#5a9ae0"/>
<polygon points="945.7,633.7 972.6,633.7 972.6,645.2 968,645.2 968,669.1 945.7,669.1" fill="#335bd1"/>
<polygon points="960.6,639.3 963.9,639.3 963.9,643 960.6,643" fill="#5a9ae0"/>
<polygon points="966.1,639.3 969.4,639.3 969.4,643 966.1,643" fill="#5a9ae0"/>
<polygon points="947.6,662.4 949.3,662.4 949.3,668 947.6,668" fill="#5a9ae0"/>
<polygon points="950.4,662.4 952,662.4 952,668 950.4,668" fill="#5a9ae0"/>
<polygon points="904.1,657.2 918.9,657.2 918.9,669.1 904.1,669.1" fill="#335bd1"/>
<polygon points="907.4,661.5 911.9,661.5 911.9,664.6 907.4,664.6" fill="#5a9ae0"/>
<rect x="904.4" y="655.9" width="2.0" height="1.6" fill="#335bd1"/>
<rect x="908.1" y="655.9" width="2.0" height="1.6" fill="#335bd1"/>
<rect x="911.9" y="655.9" width="2.0" height="1.6" fill="#335bd1"/>
<rect x="915.6" y="655.9" width="2.0" height="1.6" fill="#335bd1"/>
<rect x="199" y="578.4" width="112.5" height="7.6" fill="#6a9fe4"/>
<circle cx="209.5" cy="573" r="6.6" fill="#3a6bd8"/><path d="M209.5,567.2 l-4.6,9.6 M209.5,567.2 l4.6,9.6 M209.5,567.2 l0,10.6 M209.5,567.2 l-2.3,10.2 M209.5,567.2 l2.3,10.2" stroke="#8fbaf0" stroke-width="0.9" fill="none"/><path d="M203.8,576.2 q5.7,-3.4 11.4,0" stroke="#3a6bd8" stroke-width="1.2" fill="none"/>
<text x="221.3" y="576.9" font-size="8.8" fill="#3a66d6" textLength="89.5" lengthAdjust="spacingAndGlyphs" font-weight="bold">陕西中能煤田有限</text>
<text x="221.5" y="583.6" font-size="5.6" fill="#3a62d4" textLength="89.5" lengthAdjust="spacingAndGlyphs" font-weight="bold" font-style="italic">SHAANXI ZHONGNENG COALFIELD</text>
<text x="200" y="584.6" font-size="4.6" fill="#3a62d4" font-weight="bold" textLength="18" lengthAdjust="spacingAndGlyphs">陕煤集团</text>
<line x1="199.9" y1="56.5" x2="473.2" y2="214.3" stroke="#2dff00" stroke-width="2"/><line x1="208.5" y1="41.7" x2="481.8" y2="199.5" stroke="#2dff00" stroke-width="2"/><circle cx="204.2" cy="49.1" r="8.5" fill="#2dff00"/><circle cx="477.5" cy="206.9" r="8.5" fill="#2dff00"/>
<line x1="341.7" y1="241.0" x2="603.7" y2="392.2" stroke="#2dff00" stroke-width="2"/><line x1="349.9" y1="226.6" x2="611.9" y2="377.8" stroke="#2dff00" stroke-width="2"/><circle cx="345.8" cy="233.8" r="8.3" fill="#2dff00"/><circle cx="607.8" cy="385" r="8.3" fill="#2dff00"/>
<line x1="675.3" y1="532.4" x2="1060.0" y2="532.6" stroke="#2dff00" stroke-width="2.5"/><line x1="675.3" y1="512.4" x2="1060.0" y2="512.6" stroke="#2dff00" stroke-width="2.5"/><circle cx="675.3" cy="522.4" r="10" fill="#2dff00"/><circle cx="1060" cy="522.6" r="10" fill="#2dff00"/>
<g transform="translate(0,0)">
<polygon points="84.2,155.5 130.5,155.5 127.3,189.2 94.8,189.2" fill="#4a3a12"/><polygon points="125,155.5 175,155.5 164.9,189.2 133.5,189.2" fill="#4a3a12"/>
<polygon points="84.2,155.5 124.5,155.5 115,189.2 94.8,189.2" fill="url(#cone)"/>
<polygon points="124.5,155.5 130.5,155.5 127.3,189.2 115,189.2" fill="url(#cone2)"/>
<polygon points="125,155.5 164.3,155.5 154.2,189.2 133.5,189.2" fill="url(#cone)"/>
<polygon points="164.3,155.5 175,155.5 164.9,189.2 154.2,189.2" fill="url(#cone2)"/>
<rect x="84.2" y="155.5" width="90.8" height="1.4" fill="#2a1e06" fill-opacity="0.5"/>
<rect x="84" y="62" width="78" height="93.5" fill="#cdb560"/>
<rect x="162" y="62" width="12" height="93.5" fill="#5c5030"/>
<rect x="84" y="62" width="78" height="1" fill="#a8944a"/>
<rect x="89.3" y="66" width="68" height="14" fill="#000"/>
<rect x="118.8" y="80" width="13.7" height="74.4" fill="#fff"/>
<rect x="135.8" y="84.60" width="11.2" height="0.9" fill="#2a2410"/>
<rect x="135.8" y="91.44" width="6.5" height="0.9" fill="#2a2410"/>
<rect x="135.8" y="98.28" width="6.5" height="0.9" fill="#2a2410"/>
<rect x="135.8" y="105.12" width="6.5" height="0.9" fill="#2a2410"/>
<rect x="135.8" y="111.96" width="6.5" height="0.9" fill="#2a2410"/>
<rect x="135.8" y="118.80" width="11.2" height="0.9" fill="#2a2410"/>
<rect x="135.8" y="125.64" width="6.5" height="0.9" fill="#2a2410"/>
<rect x="135.8" y="132.48" width="6.5" height="0.9" fill="#2a2410"/>
<rect x="135.8" y="139.32" width="6.5" height="0.9" fill="#2a2410"/>
<rect x="135.8" y="146.16" width="6.5" height="0.9" fill="#2a2410"/>
<rect x="135.8" y="153.00" width="11.2" height="0.9" fill="#2a2410"/>
<text class="v" x="102.3" y="106">缓</text><text class="v" x="102.3" y="117">冲</text><text class="v" x="102.3" y="128">仓</text>
<rect x="92.9" y="189.6" width="27.4" height="23.4" fill="#d8ced3"/>
<rect x="106.30000000000001" y="189.6" width="0.7" height="23.4" fill="#ece6ea"/><rect x="92.9" y="201.2" width="27.4" height="0.7" fill="#ece6ea"/>
<rect x="138.2" y="189.6" width="27.4" height="23.4" fill="#d8ced3"/>
<rect x="151.6" y="189.6" width="0.7" height="23.4" fill="#ece6ea"/><rect x="138.2" y="201.2" width="27.4" height="0.7" fill="#ece6ea"/>
<text class="lab" x="99.4" y="199">1A</text>
<text class="lab" x="113" y="199">1B</text>
<text class="lab" x="99.4" y="210.5">4A</text>
<text class="lab" x="113" y="210.5">4B</text>
<text class="lab" x="144.6" y="199">2A</text>
<text class="lab" x="158.2" y="199">2B</text>
<text class="lab" x="144.6" y="210.5">3A</text>
<text class="lab" x="158.2" y="210.5">3B</text>
<polygon points="91.4,249.2 166.5,249.2 148.4,307 118.8,307" fill="#7b7351"/>
<polygon points="166.3,248.5 177.9,243.5 153.2,307 148.2,307" fill="#4e4436"/>
<polygon points="166.2,215.8 178,215.8 178,243.5 166.2,249" fill="#5c5232"/>
<rect x="91.4" y="215.8" width="75.2" height="33.6" fill="#b5a67c"/>
<rect x="96" y="222.6" width="64.4" height="11.2" fill="#000"/>
<rect x="127" y="240" width="10.3" height="67" fill="#fff"/>
<text class="v" x="114.7" y="261.6">定</text><text class="v" x="114.7" y="273.1">量</text><text class="v" x="114.7" y="284.6">仓</text>
<rect x="109.6" y="310.2" width="22.9" height="6.1" fill="#d4d2d6"/><rect x="134.5" y="310.2" width="22.9" height="6.1" fill="#d4d2d6"/>
<text class="ba" x="121" y="315.4">B</text><text class="ba" x="146" y="315.4">A</text>
<polygon points="113.7,322.8 154,322.8 150.3,331 150.3,352.5 118,352.5 118,331" fill="#f0a058" stroke="#c87830" stroke-width="0.6"/>
<path d="M118,331 L147,331 L150.3,322.8 M147,331 L147,352.5" fill="none" stroke="#c87830" stroke-width="0.6"/>
</g>
<g transform="translate(193,240)">
<polygon points="84.2,155.5 130.5,155.5 127.3,189.2 94.8,189.2" fill="#4a3a12"/><polygon points="125,155.5 175,155.5 164.9,189.2 133.5,189.2" fill="#4a3a12"/>
<polygon points="84.2,155.5 124.5,155.5 115,189.2 94.8,189.2" fill="url(#cone)"/>
<polygon points="124.5,155.5 130.5,155.5 127.3,189.2 115,189.2" fill="url(#cone2)"/>
<polygon points="125,155.5 164.3,155.5 154.2,189.2 133.5,189.2" fill="url(#cone)"/>
<polygon points="164.3,155.5 175,155.5 164.9,189.2 154.2,189.2" fill="url(#cone2)"/>
<rect x="84.2" y="155.5" width="90.8" height="1.4" fill="#2a1e06" fill-opacity="0.5"/>
<rect x="84" y="62" width="78" height="93.5" fill="#cdb560"/>
<rect x="162" y="62" width="12" height="93.5" fill="#5c5030"/>
<rect x="84" y="62" width="78" height="1" fill="#a8944a"/>
<rect x="89.3" y="66" width="68" height="14" fill="#000"/>
<rect x="118.8" y="80" width="13.7" height="74.4" fill="#fff"/>
<rect x="135.8" y="84.60" width="11.2" height="0.9" fill="#2a2410"/>
<rect x="135.8" y="91.44" width="6.5" height="0.9" fill="#2a2410"/>
<rect x="135.8" y="98.28" width="6.5" height="0.9" fill="#2a2410"/>
<rect x="135.8" y="105.12" width="6.5" height="0.9" fill="#2a2410"/>
<rect x="135.8" y="111.96" width="6.5" height="0.9" fill="#2a2410"/>
<rect x="135.8" y="118.80" width="11.2" height="0.9" fill="#2a2410"/>
<rect x="135.8" y="125.64" width="6.5" height="0.9" fill="#2a2410"/>
<rect x="135.8" y="132.48" width="6.5" height="0.9" fill="#2a2410"/>
<rect x="135.8" y="139.32" width="6.5" height="0.9" fill="#2a2410"/>
<rect x="135.8" y="146.16" width="6.5" height="0.9" fill="#2a2410"/>
<rect x="135.8" y="153.00" width="11.2" height="0.9" fill="#2a2410"/>
<text class="v" x="102.3" y="106">缓</text><text class="v" x="102.3" y="117">冲</text><text class="v" x="102.3" y="128">仓</text>
<rect x="92.9" y="189.6" width="27.4" height="23.4" fill="#d8ced3"/>
<rect x="106.30000000000001" y="189.6" width="0.7" height="23.4" fill="#ece6ea"/><rect x="92.9" y="201.2" width="27.4" height="0.7" fill="#ece6ea"/>
<rect x="138.2" y="189.6" width="27.4" height="23.4" fill="#d8ced3"/>
<rect x="151.6" y="189.6" width="0.7" height="23.4" fill="#ece6ea"/><rect x="138.2" y="201.2" width="27.4" height="0.7" fill="#ece6ea"/>
<text class="lab" x="99.4" y="199">1A</text>
<text class="lab" x="113" y="199">1B</text>
<text class="lab" x="99.4" y="210.5">4A</text>
<text class="lab" x="113" y="210.5">4B</text>
<text class="lab" x="144.6" y="199">2A</text>
<text class="lab" x="158.2" y="199">2B</text>
<text class="lab" x="144.6" y="210.5">3A</text>
<text class="lab" x="158.2" y="210.5">3B</text>
<polygon points="91.4,249.2 166.5,249.2 148.4,307 118.8,307" fill="#7b7351"/>
<polygon points="166.3,248.5 177.9,243.5 153.2,307 148.2,307" fill="#4e4436"/>
<polygon points="166.2,215.8 178,215.8 178,243.5 166.2,249" fill="#5c5232"/>
<rect x="91.4" y="215.8" width="75.2" height="33.6" fill="#b5a67c"/>
<rect x="96" y="222.6" width="64.4" height="11.2" fill="#000"/>
<rect x="127" y="240" width="10.3" height="67" fill="#fff"/>
<text class="v" x="114.7" y="261.6">定</text><text class="v" x="114.7" y="273.1">量</text><text class="v" x="114.7" y="284.6">仓</text>
<rect x="109.6" y="310.2" width="22.9" height="6.1" fill="#d4d2d6"/><rect x="134.5" y="310.2" width="22.9" height="6.1" fill="#d4d2d6"/>
<text class="ba" x="121" y="315.4">B</text><text class="ba" x="146" y="315.4">A</text>
<polygon points="113.7,322.8 154,322.8 150.3,331 150.3,352.5 118,352.5 118,331" fill="#f0a058" stroke="#c87830" stroke-width="0.6"/>
<path d="M118,331 L147,331 L150.3,322.8 M147,331 L147,352.5" fill="none" stroke="#c87830" stroke-width="0.6"/>
</g>
<g transform="translate(120,365) scale(0.12037)" fill="#634e46">
<g transform="translate(0,0)">
<rect x="78" y="154" width="407" height="168"/>
<path d="M112,150 L122,132 L150,120 L160,110 L200,108 L235,100 L265,96 L285,108 L320,112 L350,128 L400,124 L440,130 L462,142 L466,150 Z"/>
<circle cx="112" cy="330" r="33"/>
<circle cx="180" cy="330" r="33"/>
<circle cx="380" cy="330" r="33"/>
<circle cx="446" cy="330" r="33"/>
<rect x="485" y="308" width="50" height="13"/>
<rect x="78" y="154" width="407" height="5" fill="#75605a"/>
</g>
<g transform="translate(-453.2,0)">
<rect x="78" y="154" width="407" height="168"/>
<path d="M112,150 L122,132 L150,120 L160,110 L200,108 L235,100 L265,96 L285,108 L320,112 L350,128 L400,124 L440,130 L462,142 L466,150 Z"/>
<circle cx="112" cy="330" r="33"/>
<circle cx="180" cy="330" r="33"/>
<circle cx="380" cy="330" r="33"/>
<circle cx="446" cy="330" r="33"/>
<rect x="485" y="308" width="50" height="13"/>
<rect x="78" y="154" width="407" height="5" fill="#75605a"/>
</g>
<g transform="translate(-906.4,0)">
<rect x="78" y="154" width="407" height="168"/>
<path d="M112,150 L122,132 L150,120 L160,110 L200,108 L235,100 L265,96 L285,108 L320,112 L350,128 L400,124 L440,130 L462,142 L466,150 Z"/>
<circle cx="112" cy="330" r="33"/>
<circle cx="180" cy="330" r="33"/>
<circle cx="380" cy="330" r="33"/>
<circle cx="446" cy="330" r="33"/>
<rect x="485" y="308" width="50" height="13"/>
<rect x="78" y="154" width="407" height="5" fill="#75605a"/>
</g>
<rect x="533" y="82" width="200" height="11"/>
<rect x="545" y="90" width="176" height="165"/>
<rect x="720" y="155" width="248" height="100"/>
<rect x="750" y="118" width="30" height="40" rx="12"/><rect x="810" y="118" width="30" height="40" rx="12"/>
<path d="M858,113 h62 v10 h-12 l-6,34 h-26 l-6,-34 h-12 z"/><path d="M933,128 h34 v8 h-8 l-4,20 h-10 l-4,-20 h-8 z"/>
<path d="M525,250 L1020,243 L1022,300 L1016,358 L958,332 L525,336 Z"/>
<circle cx="585" cy="340" r="15"/>
<circle cx="626" cy="340" r="15"/>
<circle cx="668" cy="340" r="15"/>
<circle cx="750" cy="333" r="36"/>
<circle cx="832" cy="333" r="36"/>
<circle cx="920" cy="333" r="36"/>
<rect x="495" y="332" width="40" height="8"/>
<rect x="560" y="112" width="47" height="68" fill="#5a9ae0"/><rect x="620" y="112" width="88" height="36" fill="#5a9ae0"/>
<path d="M712,150 V250 M712,195 H968 M560,232 q20,0 30,14 q8,12 30,12 H850 q15,0 25,-12" fill="none" stroke="#7a655c" stroke-width="5"/>
</g>
<polygon points="695.5,65.6 712.9,71.2 712.9,110.9 695.5,106.6" fill="#14699a" fill-opacity="0.45"/>
<polygon points="712.9,71.2 737.9,71.2 737.9,110.9 712.9,110.9" fill="#1676a8" fill-opacity="0.45"/>
<polygon points="737.9,71.2 755.2,65.6 755.2,106.6 737.9,110.9" fill="#1672a4" fill-opacity="0.45"/>
<polygon points="695.5,57.1 712.9,51.8 737.9,51.8 755.2,57.1 755.2,65.6 737.9,71.2 712.9,71.2 695.5,65.6" fill="#1476a6" fill-opacity="0.45"/>
<polyline points="695.5,65.6 712.9,71.2 737.9,71.2 755.2,65.6" fill="none" stroke="#7ab4e0" stroke-width="0.5" stroke-opacity="0.6"/>
<polygon points="695.5,106.6 712.9,110.9 712.9,148.5 695.5,144.5" fill="#63676a"/>
<polygon points="712.9,110.9 737.9,110.9 737.9,148.5 712.9,148.5" fill="url(#coalc)"/>
<polygon points="737.9,110.9 755.2,106.6 755.2,144.5 737.9,148.5" fill="#323232"/>
<polygon points="695.5,101.2 712.9,97.4 737.9,97.4 755.2,101.2 755.2,106.6 737.9,110.9 712.9,110.9 695.5,106.6" fill="#424647"/>
<polyline points="695.5,106.6 712.9,110.9 737.9,110.9 755.2,106.6" fill="none" stroke="#5f8aa8" stroke-width="0.5"/>
<polygon points="770.0,65.6 787.4,71.2 787.4,96.8 770.0,90.9" fill="#14699a" fill-opacity="0.45"/>
<polygon points="787.4,71.2 812.4,71.2 812.4,96.8 787.4,96.8" fill="#1676a8" fill-opacity="0.45"/>
<polygon points="812.4,71.2 829.7,65.6 829.7,90.9 812.4,96.8" fill="#1672a4" fill-opacity="0.45"/>
<polygon points="770.0,57.1 787.4,51.8 812.4,51.8 829.7,57.1 829.7,65.6 812.4,71.2 787.4,71.2 770.0,65.6" fill="#1476a6" fill-opacity="0.45"/>
<polyline points="770.0,65.6 787.4,71.2 812.4,71.2 829.7,65.6" fill="none" stroke="#7ab4e0" stroke-width="0.5" stroke-opacity="0.6"/>
<polygon points="770.0,90.9 787.4,96.8 787.4,148.5 770.0,143.0" fill="#63676a"/>
<polygon points="787.4,96.8 812.4,96.8 812.4,148.5 787.4,148.5" fill="url(#coalc)"/>
<polygon points="812.4,96.8 829.7,90.9 829.7,143.0 812.4,148.5" fill="#323232"/>
<polygon points="770.0,83.5 787.4,78.2 812.4,78.2 829.7,83.5 829.7,90.9 812.4,96.8 787.4,96.8 770.0,90.9" fill="#424647"/>
<polyline points="770.0,90.9 787.4,96.8 812.4,96.8 829.7,90.9" fill="none" stroke="#5f8aa8" stroke-width="0.5"/>
<polygon points="844.8,65.6 862.2,71.2 862.2,110.9 844.8,106.6" fill="#14699a" fill-opacity="0.45"/>
<polygon points="862.2,71.2 887.2,71.2 887.2,110.9 862.2,110.9" fill="#1676a8" fill-opacity="0.45"/>
<polygon points="887.2,71.2 904.5,65.6 904.5,106.6 887.2,110.9" fill="#1672a4" fill-opacity="0.45"/>
<polygon points="844.8,57.1 862.2,51.8 887.2,51.8 904.5,57.1 904.5,65.6 887.2,71.2 862.2,71.2 844.8,65.6" fill="#1476a6" fill-opacity="0.45"/>
<polyline points="844.8,65.6 862.2,71.2 887.2,71.2 904.5,65.6" fill="none" stroke="#7ab4e0" stroke-width="0.5" stroke-opacity="0.6"/>
<polygon points="844.8,106.6 862.2,110.9 862.2,148.5 844.8,144.5" fill="#63676a"/>
<polygon points="862.2,110.9 887.2,110.9 887.2,148.5 862.2,148.5" fill="url(#coalc)"/>
<polygon points="887.2,110.9 904.5,106.6 904.5,144.5 887.2,148.5" fill="#323232"/>
<polygon points="844.8,101.2 862.2,97.4 887.2,97.4 904.5,101.2 904.5,106.6 887.2,110.9 862.2,110.9 844.8,106.6" fill="#424647"/>
<polyline points="844.8,106.6 862.2,110.9 887.2,110.9 904.5,106.6" fill="none" stroke="#5f8aa8" stroke-width="0.5"/>
<polygon points="961.3,65.6 978.7,71.2 978.7,93.0 961.3,86.6" fill="#14699a" fill-opacity="0.45"/>
<polygon points="978.7,71.2 1003.7,71.2 1003.7,93.0 978.7,93.0" fill="#1676a8" fill-opacity="0.45"/>
<polygon points="1003.7,71.2 1021.0,65.6 1021.0,86.6 1003.7,93.0" fill="#1672a4" fill-opacity="0.45"/>
<polygon points="961.3,57.1 978.7,51.8 1003.7,51.8 1021.0,57.1 1021.0,65.6 1003.7,71.2 978.7,71.2 961.3,65.6" fill="#1476a6" fill-opacity="0.45"/>
<polyline points="961.3,65.6 978.7,71.2 1003.7,71.2 1021.0,65.6" fill="none" stroke="#7ab4e0" stroke-width="0.5" stroke-opacity="0.6"/>
<polygon points="961.3,86.6 978.7,93.0 978.7,148.5 961.3,142.6" fill="#63676a"/>
<polygon points="978.7,93.0 1003.7,93.0 1003.7,148.5 978.7,148.5" fill="url(#coalc)"/>
<polygon points="1003.7,93.0 1021.0,86.6 1021.0,142.6 1003.7,148.5" fill="#323232"/>
<polygon points="961.3,78.7 978.7,73.0 1003.7,73.0 1021.0,78.7 1021.0,86.6 1003.7,93.0 978.7,93.0 961.3,86.6" fill="#424647"/>
<polyline points="961.3,86.6 978.7,93.0 1003.7,93.0 1021.0,86.6" fill="none" stroke="#5f8aa8" stroke-width="0.5"/>
<polygon points="660.4,282.7 694.1,293.5 694.1,348.7 660.4,336.7" fill="#14699a" fill-opacity="0.45"/>
<polygon points="694.1,293.5 742.4,293.5 742.4,348.7 694.1,348.7" fill="#1676a8" fill-opacity="0.45"/>
<polygon points="742.4,293.5 775.7,282.7 775.7,336.7 742.4,348.7" fill="#1672a4" fill-opacity="0.45"/>
<polygon points="660.4,266.2 694.1,256.0 742.4,256.0 775.7,266.2 775.7,282.7 742.4,293.5 694.1,293.5 660.4,282.7" fill="#1476a6" fill-opacity="0.45"/>
<polyline points="660.4,282.7 694.1,293.5 742.4,293.5 775.7,282.7" fill="none" stroke="#7ab4e0" stroke-width="0.5" stroke-opacity="0.6"/>
<polygon points="660.4,336.7 694.1,348.7 694.1,452.1 660.4,441.1" fill="#63676a"/>
<polygon points="694.1,348.7 742.4,348.7 742.4,452.1 694.1,452.1" fill="url(#coalc)"/>
<polygon points="742.4,348.7 775.7,336.7 775.7,441.1 742.4,452.1" fill="#323232"/>
<polygon points="660.4,322.0 694.1,311.4 742.4,311.4 775.7,322.0 775.7,336.7 742.4,348.7 694.1,348.7 660.4,336.7" fill="#424647"/>
<polyline points="660.4,336.7 694.1,348.7 742.4,348.7 775.7,336.7" fill="none" stroke="#5f8aa8" stroke-width="0.5"/>
<polygon points="801.9,282.7 835.6,293.5 835.6,374.7 801.9,365.8" fill="#14699a" fill-opacity="0.45"/>
<polygon points="835.6,293.5 883.9,293.5 883.9,374.7 835.6,374.7" fill="#1676a8" fill-opacity="0.45"/>
<polygon points="883.9,293.5 917.2,282.7 917.2,365.8 883.9,374.7" fill="#1672a4" fill-opacity="0.45"/>
<polygon points="801.9,266.2 835.6,256.0 883.9,256.0 917.2,266.2 917.2,282.7 883.9,293.5 835.6,293.5 801.9,282.7" fill="#1476a6" fill-opacity="0.45"/>
<polyline points="801.9,282.7 835.6,293.5 883.9,293.5 917.2,282.7" fill="none" stroke="#7ab4e0" stroke-width="0.5" stroke-opacity="0.6"/>
<polygon points="801.9,365.8 835.6,374.7 835.6,452.1 801.9,443.9" fill="#63676a"/>
<polygon points="835.6,374.7 883.9,374.7 883.9,452.1 835.6,452.1" fill="url(#coalc)"/>
<polygon points="883.9,374.7 917.2,365.8 917.2,443.9 883.9,452.1" fill="#323232"/>
<polygon points="801.9,354.7 835.6,346.8 883.9,346.8 917.2,354.7 917.2,365.8 883.9,374.7 835.6,374.7 801.9,365.8" fill="#424647"/>
<polyline points="801.9,365.8 835.6,374.7 883.9,374.7 917.2,365.8" fill="none" stroke="#5f8aa8" stroke-width="0.5"/>
<polygon points="942.8,282.7 976.5,293.5 976.5,339.3 942.8,326.2" fill="#14699a" fill-opacity="0.45"/>
<polygon points="976.5,293.5 1024.8,293.5 1024.8,339.3 976.5,339.3" fill="#1676a8" fill-opacity="0.45"/>
<polygon points="1024.8,293.5 1058.1,282.7 1058.1,326.2 1024.8,339.3" fill="#1672a4" fill-opacity="0.45"/>
<polygon points="942.8,266.2 976.5,256.0 1024.8,256.0 1058.1,266.2 1058.1,282.7 1024.8,293.5 976.5,293.5 942.8,282.7" fill="#1476a6" fill-opacity="0.45"/>
<polyline points="942.8,282.7 976.5,293.5 1024.8,293.5 1058.1,282.7" fill="none" stroke="#7ab4e0" stroke-width="0.5" stroke-opacity="0.6"/>
<polygon points="942.8,326.2 976.5,339.3 976.5,452.1 942.8,440.1" fill="#63676a"/>
<polygon points="976.5,339.3 1024.8,339.3 1024.8,452.1 976.5,452.1" fill="url(#coalc)"/>
<polygon points="1024.8,339.3 1058.1,326.2 1058.1,440.1 1024.8,452.1" fill="#323232"/>
<polygon points="942.8,310.1 976.5,298.6 1024.8,298.6 1058.1,310.1 1058.1,326.2 1024.8,339.3 976.5,339.3 942.8,326.2" fill="#424647"/>
<polyline points="942.8,326.2 976.5,339.3 1024.8,339.3 1058.1,326.2" fill="none" stroke="#5f8aa8" stroke-width="0.5"/>
<use href="#truck" x="245.0" y="590.0" width="160.0" height="70.0"/>
<use href="#truck" x="686.4" y="181.2" width="71.8" height="31.4"/>
<use href="#truck" x="765.0" y="181.2" width="71.8" height="31.4"/>
<use href="#truck" x="845.8" y="181.2" width="71.8" height="31.4"/>
<use href="#truck" x="963.4" y="181.2" width="71.8" height="31.4"/>
<g transform="translate(516.3,97.1)"><circle r="23.3" fill="#a89c8e"/><circle r="18.8" fill="#2f141a"/>
<g transform="rotate(-46)"><rect x="-23.5" y="-2.9" width="47" height="5.8" fill="#2f141a"/></g>
<circle r="9.1" fill="#7f1d16"/>
<g transform="rotate(-46)"><rect x="-12" y="-3" width="24" height="1.1" fill="#2f141a"/><rect x="-12" y="1.9" width="24" height="1.1" fill="#2f141a"/><rect x="-12" y="-0.6" width="24" height="1.2" fill="#2f141a"/>
<rect x="9.5" y="-2.9" width="13.5" height="5.8" fill="#fff"/></g></g>
<g transform="translate(452.4,466.4)"><circle r="23.3" fill="#a89c8e"/><circle r="18.8" fill="#2f141a"/>
<g transform="rotate(-46)"><rect x="-23.5" y="-2.9" width="47" height="5.8" fill="#2f141a"/></g>
<circle r="9.1" fill="#7f1d16"/>
<g transform="rotate(-46)"><rect x="-12" y="-3" width="24" height="1.1" fill="#2f141a"/><rect x="-12" y="1.9" width="24" height="1.1" fill="#2f141a"/><rect x="-12" y="-0.6" width="24" height="1.2" fill="#2f141a"/>
<rect x="9.5" y="-2.9" width="13.5" height="5.8" fill="#fff"/></g></g>
<g transform="translate(958,615.7)"><circle r="23.3" fill="#a89c8e"/><circle r="18.8" fill="#2f141a"/>
<g transform="rotate(-46)"><rect x="-23.5" y="-2.9" width="47" height="5.8" fill="#2f141a"/></g>
<circle r="9.1" fill="#7f1d16"/>
<g transform="rotate(-46)"><rect x="-12" y="-3" width="24" height="1.1" fill="#2f141a"/><rect x="-12" y="1.9" width="24" height="1.1" fill="#2f141a"/><rect x="-12" y="-0.6" width="24" height="1.2" fill="#2f141a"/>
<rect x="9.5" y="-2.9" width="13.5" height="5.8" fill="#fff"/></g></g>
</svg>
<div class="btn" style="left:402.5px;top:36.5px;width:49.5px;height:12.2px;line-height:12.2px">758控制</div>
<div class="btn" style="left:402.5px;top:57.7px;width:49.5px;height:12.2px;line-height:12.2px">758状态</div>
<div class="btn" style="left:402.5px;top:79px;width:49.5px;height:12.2px;line-height:12.2px">727闸板控制</div>
<div class="btn" style="left:524.8px;top:425.7px;width:50.2px;height:13px;line-height:13px">753控制</div>
<div class="btn" style="left:524.8px;top:447.3px;width:50.2px;height:13px;line-height:13px">753状态</div>
<div class="btn" style="left:524.8px;top:468.6px;width:50.2px;height:13px;line-height:13px">727闸板控制</div>
<div class="btn" style="left:801.4px;top:567px;width:49.6px;height:12px;line-height:12px">727控制</div>
<div class="btn" style="left:801.4px;top:586px;width:49.6px;height:12px;line-height:12px">起车预警</div>
<div class="btn" style="left:801.4px;top:606px;width:49.6px;height:12px;line-height:12px">727控制</div>
<div class="btn" style="left:801.4px;top:624.8px;width:49.6px;height:12px;line-height:12px">电笛停止</div>
<div class="t" style="left:471.4px;top:35.6px;font-size:12px">758皮带与给料机</div>
<div class="t" style="left:469px;top:67.0px;font-size:10px">连锁</div>
<div class="t" style="left:545px;top:68.3px;font-size:10px">解锁</div>
<div class="t" style="left:407.4px;top:405.0px;font-size:12px">753皮带与给料机</div>
<div class="t" style="left:405.4px;top:436.5px;font-size:10px">连锁</div>
<div class="t" style="left:481.6px;top:437.0px;font-size:10px">解锁</div>
<div class="t" style="left:912.9px;top:565.8px;font-size:12px">727皮带与给料机</div>
<div class="t" style="left:910.8px;top:585.7px;font-size:10px">连锁</div>
<div class="t" style="left:986.8px;top:583.3px;font-size:10px">解锁</div>
<div class="t" style="left:711px;top:160.9px;font-size:8.1px">精煤1仓</div>
<div class="t" style="left:785.2px;top:160.9px;font-size:8.1px">精煤2仓</div>
<div class="t" style="left:860.3px;top:160.9px;font-size:8.1px">精煤3仓</div>
<div class="t" style="left:983px;top:161.2px;font-size:8.1px">矸石</div>
<div class="t" style="left:696.7px;top:474.5px;font-size:12.3px">精煤1仓</div>
<div class="t" style="left:837.3px;top:474.5px;font-size:12.3px">沫煤2仓</div>
<div class="t" style="left:978.7px;top:474.5px;font-size:12.3px">沫煤3仓</div>
</body></html>
